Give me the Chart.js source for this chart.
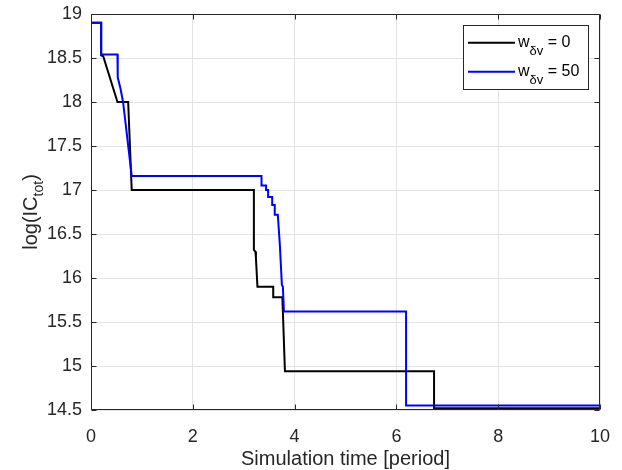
<!DOCTYPE html>
<html>
<head>
<meta charset="utf-8">
<script src="https://cdn.jsdelivr.net/npm/chart.js@4/dist/chart.umd.min.js"></script>
<style>
  html, body { margin: 0; padding: 0; background: #fff; }
  #wrap { width: 622px; height: 470px; }
</style>
</head>
<body>
<div id="wrap"><canvas id="c" width="622" height="470"></canvas></div>
<script>
// ---- data ----
const blackTime  = [0, 0.2, 0.2, 0.24, 0.52, 0.73, 0.8, 3.2, 3.2, 3.23, 3.24, 3.27, 3.58, 3.58, 3.76, 3.81, 6.74, 6.74, 10];
const blackValue = [18.9, 18.9, 18.53, 18.52, 18.0, 18.0, 17.0, 17.0, 16.32, 16.3, 16.23, 15.9, 15.9, 15.78, 15.78, 14.94, 14.94, 14.52, 14.52];

const blueTime  = [0, 0.2, 0.2, 0.52, 0.52, 0.53, 0.58, 0.63, 0.8, 3.35, 3.35, 3.44, 3.44, 3.48, 3.48, 3.56, 3.56, 3.61, 3.61, 3.67, 3.71, 3.75, 3.77, 3.79, 6.19, 6.19, 10];
const blueValue = [18.9, 18.9, 18.54, 18.54, 18.3, 18.28, 18.15, 18.0, 17.16, 17.16, 17.05, 17.05, 17.0, 17.0, 16.92, 16.92, 16.83, 16.83, 16.72, 16.72, 16.38, 15.92, 15.9, 15.62, 15.62, 14.55, 14.55];

const xTicks = [0, 2, 4, 6, 8, 10];
const yTicks = [14.5, 15, 15.5, 16, 16.5, 17, 17.5, 18, 18.5, 19];

const seriesNames = ['0', '50'];        // values of w_δv
const xTitle = 'Simulation time [period]';
const yTitleMain = 'log(IC';
const yTitleSub = 'tot';
const yTitleEnd = ')';

// ---- build ----
const toPts = (t, v) => t.map((tt, i) => ({ x: tt, y: v[i] }));
const FONT = '"Liberation Sans", Arial, Helvetica, sans-serif';
const AX = '#262626';

const decor = {
  id: 'decor',
  afterDraw(chart) {
    const { ctx, chartArea: a, scales: { x, y } } = chart;
    ctx.save();
    ctx.strokeStyle = AX;
    ctx.lineWidth = 1;
    const L = Math.round(a.left) + 0.5, R = Math.round(a.right) - 0.5;
    const T = Math.round(a.top) + 0.5, B = Math.round(a.bottom) - 0.5;
    ctx.beginPath();
    ctx.rect(L, T, R - L, B - T);
    // inward ticks
    xTicks.forEach(v => {
      const px = Math.round(x.getPixelForValue(v)) + 0.5;
      ctx.moveTo(px, B); ctx.lineTo(px, B - 5);
      ctx.moveTo(px, T); ctx.lineTo(px, T + 5);
    });
    yTicks.forEach(v => {
      const py = Math.round(y.getPixelForValue(v)) + 0.5;
      ctx.moveTo(L, py); ctx.lineTo(L + 5, py);
      ctx.moveTo(R, py); ctx.lineTo(R - 5, py);
    });
    ctx.stroke();

    // legend
    const lx = 463.5, ly = 25.5, lw = 125, lh = 64;
    ctx.fillStyle = '#fff';
    ctx.fillRect(lx, ly, lw, lh);
    ctx.strokeStyle = AX;
    ctx.strokeRect(lx, ly, lw, lh);
    const rows = [{ c: '#000000', y: 42.7, t: seriesNames[0] }, { c: '#0000ff', y: 71.7, t: seriesNames[1] }];
    rows.forEach(r => {
      ctx.strokeStyle = r.c; ctx.lineWidth = 2;
      ctx.beginPath(); ctx.moveTo(468, r.y); ctx.lineTo(515, r.y); ctx.stroke();
      ctx.fillStyle = '#000';
      ctx.textAlign = 'left'; ctx.textBaseline = 'alphabetic';
      const base = r.y + 4.5;
      let cx = 518;
      ctx.font = '16px ' + FONT;
      ctx.fillText('w', cx, base); cx += ctx.measureText('w').width;
      ctx.font = '13px ' + FONT;
      ctx.fillText('δv', cx, base + 8); cx += ctx.measureText('δv').width;
      ctx.font = '16px ' + FONT;
      ctx.fillText(' = ' + r.t, cx, base);
    });

    // x title
    ctx.fillStyle = AX;
    ctx.font = '20px ' + FONT;
    ctx.textAlign = 'center'; ctx.textBaseline = 'middle';
    ctx.fillText(xTitle, (a.left + a.right) / 2, 459);

    // y title (rotated, with subscript)
    ctx.save();
    ctx.translate(37, (a.top + a.bottom) / 2);
    ctx.rotate(-Math.PI / 2);
    ctx.textAlign = 'left'; ctx.textBaseline = 'alphabetic';
    ctx.font = '20px ' + FONT;
    const w1 = ctx.measureText(yTitleMain).width, w3 = ctx.measureText(yTitleEnd).width;
    ctx.font = '14px ' + FONT;
    const w2 = ctx.measureText(yTitleSub).width;
    let sx = -(w1 + w2 + w3) / 2;
    ctx.font = '20px ' + FONT;
    ctx.fillText(yTitleMain, sx, 0); sx += w1;
    ctx.font = '14px ' + FONT;
    ctx.fillText(yTitleSub, sx, 6); sx += w2;
    ctx.font = '20px ' + FONT;
    ctx.fillText(yTitleEnd, sx, 0);
    ctx.restore();

    ctx.restore();
  }
};

const noPad = s => { s.paddingTop = 0; s.paddingBottom = 0; s.paddingLeft = 0; s.paddingRight = 0; };

new Chart(document.getElementById('c'), {
  type: 'line',
  data: {
    datasets: [
      { label: 'w_δv = 50', data: toPts(blueTime, blueValue), borderColor: '#0000ff', borderWidth: 2, pointRadius: 0, tension: 0, fill: false, order: 0 },
      { label: 'w_δv = 0', data: toPts(blackTime, blackValue), borderColor: '#000000', borderWidth: 2, pointRadius: 0, tension: 0, fill: false, order: 1 }
    ]
  },
  options: {
    responsive: false,
    animation: false,
    devicePixelRatio: 1,
    layout: { padding: { top: 14, right: 22, left: 0, bottom: 0 } },
    plugins: { legend: { display: false }, tooltip: { enabled: false } },
    elements: { line: { borderJoinStyle: 'miter', borderCapStyle: 'butt' } },
    scales: {
      x: {
        type: 'linear', min: 0, max: 10,
        afterBuildTicks: s => { s.ticks = xTicks.map(v => ({ value: v })); },
        afterFit: s => { s.height = 60; noPad(s); },
        grid: { color: '#e3e3e3', drawTicks: false },
        border: { display: false },
        ticks: { color: AX, font: { family: FONT, size: 18 }, padding: 16, maxRotation: 0, autoSkip: false, callback: v => String(v) }
      },
      y: {
        type: 'linear', min: 14.5, max: 19,
        afterBuildTicks: s => { s.ticks = yTicks.map(v => ({ value: v })); },
        afterFit: s => { s.width = 91; noPad(s); },
        grid: { color: '#e3e3e3', drawTicks: false },
        border: { display: false },
        ticks: { color: AX, font: { family: FONT, size: 18 }, padding: 9, autoSkip: false, callback: v => String(v) }
      }
    }
  },
  plugins: [decor]
});
</script>
</body>
</html>
